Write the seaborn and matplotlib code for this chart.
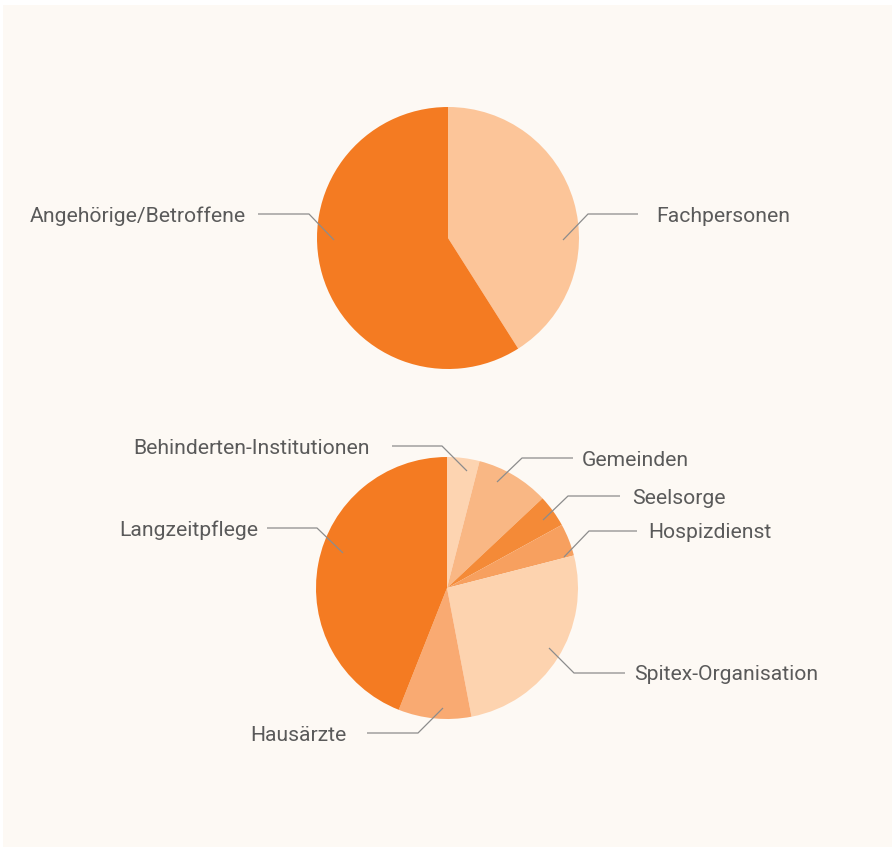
import matplotlib
matplotlib.use('Agg')
import matplotlib.pyplot as plt
import seaborn as sns

# Data (shares in percent, clockwise from 12 o'clock)
top_labels = ['Fachpersonen', 'Angehörige/Betroffene']
top_values = [41, 59]
top_colors = ['#fcc599', '#f47b22']

bottom_labels = ['Behinderten-Institutionen', 'Gemeinden', 'Seelsorge', 'Hospizdienst',
                 'Spitex-Organisation', 'Hausärzte', 'Langzeitpflege']
bottom_values = [4, 9, 4, 4, 26, 9, 44]
bottom_colors = ['#fdd4b1', '#f9b784', '#f48a37', '#f7a05f', '#fdd3af', '#f9aa72', '#f47b22']

# Layout in pixels (x, y from top-left): anchor on pie, elbow, line end, text x
W, H = 892, 847
top_center, bottom_center, radius = (448, 238), (447, 588), 131

top_layout = {
    'Fachpersonen': ((563, 240), (588, 214), (638, 214), 656, 'left'),
    'Angehörige/Betroffene': ((334, 240), (309, 214), (258, 214), 246, 'right'),
}
bottom_layout = {
    'Behinderten-Institutionen': ((467, 471), (442, 446), (392, 446), 370, 'right'),
    'Gemeinden': ((497, 482), (522, 458), (573, 458), 582, 'left'),
    'Seelsorge': ((543, 520), (568, 496), (620, 496), 632, 'left'),
    'Hospizdienst': ((564, 557), (589, 531), (637, 531), 648, 'left'),
    'Spitex-Organisation': ((549, 648), (574, 673), (625, 673), 634, 'left'),
    'Hausärzte': ((443, 708), (418, 733), (367, 733), 346, 'right'),
    'Langzeitpflege': ((343, 553), (317, 528), (267, 528), 258, 'right'),
}

sns.set_style('white')
plt.rcParams['font.family'] = ['Roboto', 'DejaVu Sans']

fig = plt.figure(figsize=(W / 100, H / 100), dpi=100, facecolor='white')
ax = fig.add_axes([0, 0, 1, 1])

def py(y):
    return H - y

for values, colors, center in [(top_values, top_colors, top_center),
                               (bottom_values, bottom_colors, bottom_center)]:
    ax.pie(values, colors=colors, startangle=90, counterclock=False,
           center=(center[0], py(center[1])), radius=radius,
           wedgeprops=dict(linewidth=0))

for labels, layout in [(top_labels, top_layout), (bottom_labels, bottom_layout)]:
    for lab in labels:
        a, e, end, tx, ha = layout[lab]
        ax.plot([a[0], e[0], end[0]], [py(a[1]), py(e[1]), py(end[1])],
                color='#8c8c8c', lw=0.9, solid_capstyle='butt', zorder=3)
        ax.text(tx, py(end[1]) - 2, lab, ha=ha, va='center', fontsize=15.2,
                color='#5a5a5a')

# panel background
ax.add_patch(plt.Rectangle((3, 0), W, H - 5, facecolor='#fdf9f4',
                           edgecolor='none', zorder=-10))
ax.set_xlim(0, W)
ax.set_ylim(0, H)
ax.set_aspect('equal')
ax.axis('off')

fig.savefig('out.png', dpi=100, facecolor='white')
